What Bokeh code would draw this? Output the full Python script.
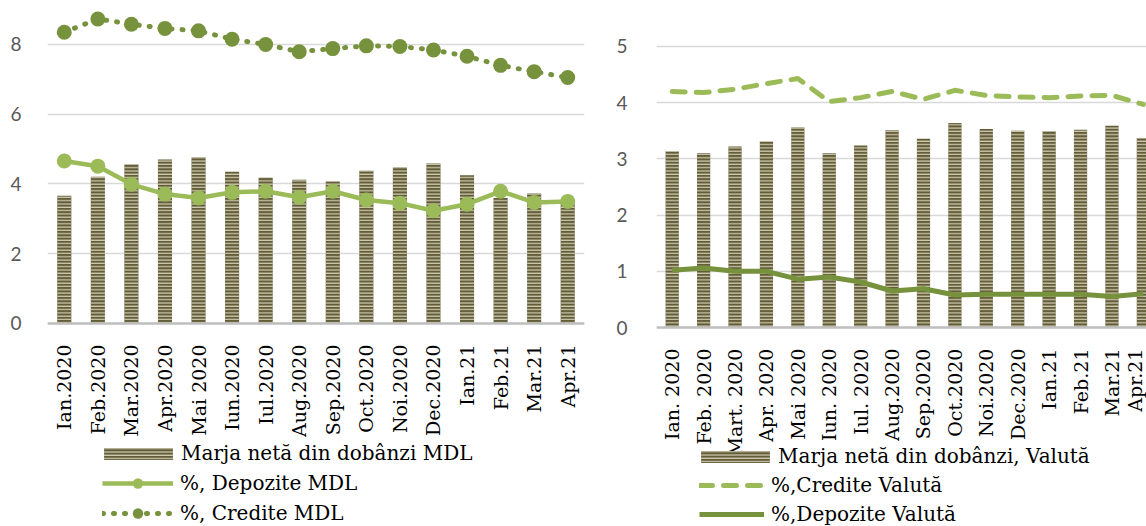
import math
from bokeh.plotting import figure
from bokeh.layouts import row
from bokeh.models import Legend, LegendItem, FixedTicker, ColumnDataSource, Range1d
from bokeh.embed import file_html
from bokeh.resources import INLINE

# ---------------- data ----------------
labels_mdl = ["Ian.2020", "Feb.2020", "Mar.2020", "Apr.2020", "Mai 2020", "Iun.2020",
              "Iul.2020", "Aug.2020", "Sep.2020", "Oct.2020", "Noi.2020", "Dec.2020",
              "Ian.21", "Feb.21", "Mar.21", "Apr.21"]
marja_mdl = [3.66, 4.21, 4.56, 4.70, 4.76, 4.35, 4.18, 4.12, 4.07, 4.38, 4.47, 4.59,
             4.25, 3.60, 3.73, 3.55]
depozite_mdl = [4.66, 4.51, 3.99, 3.71, 3.60, 3.76, 3.79, 3.62, 3.79, 3.54, 3.45, 3.23,
                3.42, 3.79, 3.47, 3.50]
credite_mdl = [8.35, 8.73, 8.58, 8.46, 8.39, 8.15, 8.00, 7.79, 7.88, 7.96, 7.94, 7.84,
               7.66, 7.40, 7.22, 7.05]

labels_val = ["Ian. 2020", "Feb. 2020", "Mart. 2020", "Apr. 2020", "Mai 2020", "Iun. 2020",
              "Iul. 2020", "Aug.2020", "Sep.2020", "Oct.2020", "Noi.2020", "Dec.2020",
              "Ian.21", "Feb.21", "Mar.21", "Apr.21"]
marja_val = [3.14, 3.10, 3.22, 3.32, 3.56, 3.10, 3.24, 3.51, 3.36, 3.64, 3.53, 3.50,
             3.49, 3.52, 3.59, 3.37]
credite_val = [4.20, 4.18, 4.24, 4.34, 4.43, 4.02, 4.09, 4.20, 4.06, 4.22, 4.13, 4.10,
               4.09, 4.12, 4.13, 3.97]
depozite_val = [1.02, 1.06, 1.00, 1.00, 0.86, 0.90, 0.81, 0.65, 0.69, 0.58, 0.59, 0.59,
                0.59, 0.59, 0.55, 0.60]

LIGHT = "#9bbb59"
DARK = "#76923c"
BAR = "#625c37"
HATCH = "#ddd8c2"
SERIF = "DejaVu Serif"
SANS = "Lato"


def style(p, ticks, labels, ystandoff):
    p.outline_line_color = None
    p.background_fill_color = None
    p.border_fill_color = None
    p.xgrid.grid_line_color = None
    p.ygrid.grid_line_color = "#d9d9d9"
    p.ygrid.grid_line_width = 1.5
    p.yaxis.ticker = FixedTicker(ticks=ticks)
    p.yaxis.axis_line_color = None
    p.yaxis.major_tick_line_color = None
    p.yaxis.minor_tick_line_color = None
    p.yaxis.major_label_text_font = SANS
    p.yaxis.major_label_text_font_size = "19px"
    p.yaxis.major_label_text_color = "#595959"
    p.yaxis.major_label_standoff = ystandoff
    p.xaxis.fixed_location = 0
    p.xaxis.ticker = FixedTicker(ticks=list(range(len(labels))))
    p.xaxis.major_label_overrides = {i: l for i, l in enumerate(labels)}
    p.xaxis.major_label_orientation = math.pi / 2
    p.xaxis.major_label_text_font = SERIF
    p.xaxis.major_label_text_font_size = "19px"
    p.xaxis.major_label_text_color = "#000000"
    p.xaxis.major_label_standoff = 15
    p.xaxis.major_tick_line_color = None
    p.xaxis.minor_tick_line_color = None
    p.xaxis.axis_line_color = "#bfbfbf"
    p.xaxis.axis_line_width = 2.5


def make_legend(items, loc, glyph_w, glyph_h, spacing, standoff):
    lg = Legend(items=items, location=loc, orientation="vertical")
    lg.background_fill_alpha = 0
    lg.border_line_color = None
    lg.padding = 0
    lg.margin = 0
    lg.spacing = spacing
    lg.glyph_width = glyph_w
    lg.glyph_height = glyph_h
    lg.label_height = 20
    lg.label_standoff = standoff
    lg.label_text_font = SERIF
    lg.label_text_font_size = "20px"
    lg.label_text_color = "#000000"
    return lg


# ---------------- left chart ----------------
x = list(range(len(labels_mdl)))
src1 = ColumnDataSource(dict(x=x, marja=marja_mdl, dep=depozite_mdl, cred=credite_mdl))

p1 = figure(width=600, height=526, x_range=Range1d(-0.5, 15.5),
            y_range=Range1d(-5.82, 9.03), output_backend="svg", toolbar_location=None,
            min_border_top=8, min_border_left=47, min_border_right=16, min_border_bottom=0)
style(p1, [0, 2, 4, 6, 8], labels_mdl, 20)

b1 = p1.vbar(x="x", top="marja", bottom=0, width=0.42, source=src1, fill_color=BAR,
             line_color=None, hatch_pattern="horizontal_line", hatch_color=HATCH,
             hatch_scale=3.3, hatch_weight=1.1)
dl = p1.line("x", "dep", source=src1, line_color=LIGHT, line_width=4.5, line_join="round")
ds = p1.scatter("x", "dep", source=src1, size=15, fill_color=LIGHT, line_color=None)
cl = p1.line("x", "cred", source=src1, line_color=DARK, line_width=5, line_dash="1 10",
             line_cap="round")
cs = p1.scatter("x", "cred", source=src1, size=15, fill_color=DARK, line_color=None)

p1.add_layout(make_legend([
    LegendItem(label="Marja netă din dobânzi MDL", renderers=[b1]),
], (48, 61), 86, 15, 0, 0))
p1.add_layout(make_legend([
    LegendItem(label="%, Depozite MDL", renderers=[dl, ds]),
    LegendItem(label="%, Credite MDL", renderers=[cl, cs]),
], (55, 0), 71, 26, 4, 7))

# ---------------- right chart ----------------
src2 = ColumnDataSource(dict(x=x, marja=marja_val, cred=credite_val, dep=depozite_val))
p2 = figure(width=546, height=526, x_range=Range1d(-0.5, 15.1),
            y_range=Range1d(-3.54, 5.676), output_backend="svg", toolbar_location=None,
            min_border_top=8, min_border_left=56, min_border_right=0, min_border_bottom=0)
style(p2, [0, 1, 2, 3, 4, 5], labels_val, 23)

b2 = p2.vbar(x="x", top="marja", bottom=0, width=0.42, source=src2, fill_color=BAR,
             line_color=None, hatch_pattern="horizontal_line", hatch_color=HATCH,
             hatch_scale=3.3, hatch_weight=1.1)
vl = p2.line("x", "cred", source=src2, line_color=LIGHT, line_width=5, line_dash="13 11",
             line_cap="round", line_join="round")
dv = p2.line("x", "dep", source=src2, line_color=DARK, line_width=5, line_join="round")

p2.add_layout(make_legend([
    LegendItem(label="Marja netă din dobânzi, Valută", renderers=[b2]),
], (36, 58), 86, 15, 0, 0))
p2.add_layout(make_legend([
    LegendItem(label="%,Credite Valută", renderers=[vl]),
    LegendItem(label="%,Depozite Valută", renderers=[dv]),
], (43, 0), 65, 20, 5, 7))

layout = row(p1, p2, spacing=0)
open("out.html", "w").write(file_html(layout, INLINE))
